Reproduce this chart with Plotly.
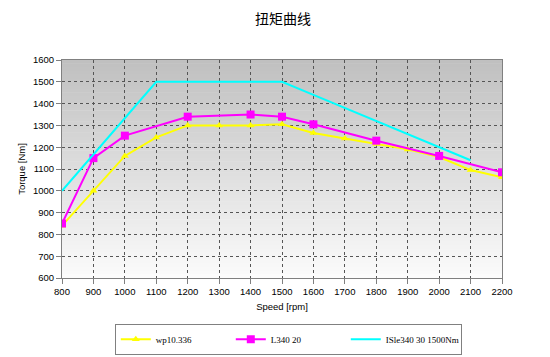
import plotly.graph_objects as go

# Data
yellow_x = [800, 900, 1000, 1100, 1200, 1300, 1400, 1500, 1600, 1700, 1800, 1900, 2000, 2100, 2200]
yellow_y = [840, 1000, 1160, 1245, 1300, 1300, 1300, 1305, 1265, 1240, 1215, 1190, 1155, 1095, 1062]
magenta_x = [800, 900, 1000, 1200, 1400, 1500, 1600, 1800, 2000, 2200]
magenta_y = [850, 1150, 1253, 1340, 1350, 1340, 1305, 1230, 1160, 1085]
cyan_x = [800, 900, 1000, 1100, 1200, 1300, 1400, 1500, 1600, 1700, 1800, 1900, 2000, 2100]
cyan_y = [1000, 1167, 1333, 1500, 1500, 1500, 1500, 1500, 1440, 1380, 1320, 1260, 1200, 1140]
names = ["wp10.336", "L340 20", "ISle340 30 1500Nm"]
x_ticks = list(range(800, 2201, 100))
y_ticks = list(range(600, 1601, 100))

fig = go.Figure()
fig.add_trace(go.Scatter(x=yellow_x, y=yellow_y, name=names[0], mode="lines+markers",
                         line=dict(color="#ffff00", width=2),
                         marker=dict(symbol="triangle-up", size=7, color="#ffff00")))
fig.add_trace(go.Scatter(x=magenta_x, y=magenta_y, name=names[1], mode="lines+markers",
                         line=dict(color="#ff00ff", width=2),
                         marker=dict(symbol="square", size=8, color="#ff00ff")))
fig.add_trace(go.Scatter(x=cyan_x, y=cyan_y, name=names[2], mode="lines",
                         line=dict(color="#00ffff", width=2)))

# gradient background of plot area
n = 60
shapes = []
for i in range(n):
    t = i / (n - 1)
    g = int(192 + (252 - 192) * (1 - t))
    shapes.append(dict(type="rect", xref="x domain", yref="y domain",
                       x0=0, x1=1, y0=i / n, y1=(i + 1) / n + 0.002,
                       fillcolor=f"rgb({g},{g},{g})", line=dict(width=0), layer="below"))

axis_common = dict(showline=True, linecolor="#808080", linewidth=1, mirror=True,
                   showgrid=True, gridcolor="#555555", griddash="dot", gridwidth=1,
                   ticks="outside", ticklen=5, tickcolor="#808080",
                   tickfont=dict(family="Liberation Sans", size=9.5, color="#000000"),
                   zeroline=False, automargin=False)

fig.update_layout(
    width=550, height=357,
    margin=dict(l=54, r=56, t=52, b=87, autoexpand=False),
    paper_bgcolor="white", plot_bgcolor="rgba(0,0,0,0)",
    title=dict(text="扭矩曲线", x=0.5, xanchor="center", y=0.968, yanchor="middle",
               font=dict(family="Noto Sans CJK SC", size=14, color="#000000")),
    shapes=shapes,
    xaxis=dict(range=[800, 2200], tickvals=x_ticks,
               title=dict(text="Speed [rpm]", font=dict(family="Liberation Sans", size=9.5, color="#000000"), standoff=6),
               **axis_common),
    yaxis=dict(range=[600, 1600], tickvals=y_ticks,
               title=dict(text="Torque [Nm]", font=dict(family="Liberation Sans", size=9.5, color="#000000"), standoff=5),
               **axis_common),
    showlegend=True,
    legend=dict(orientation="h", x=0.12, xanchor="left", y=-0.21, yanchor="top",
                bordercolor="#808080", borderwidth=1, bgcolor="white",
                font=dict(family="Liberation Serif", size=9, color="#000000"),
                entrywidth=70, itemwidth=30),
)

fig.write_html("out.html")
